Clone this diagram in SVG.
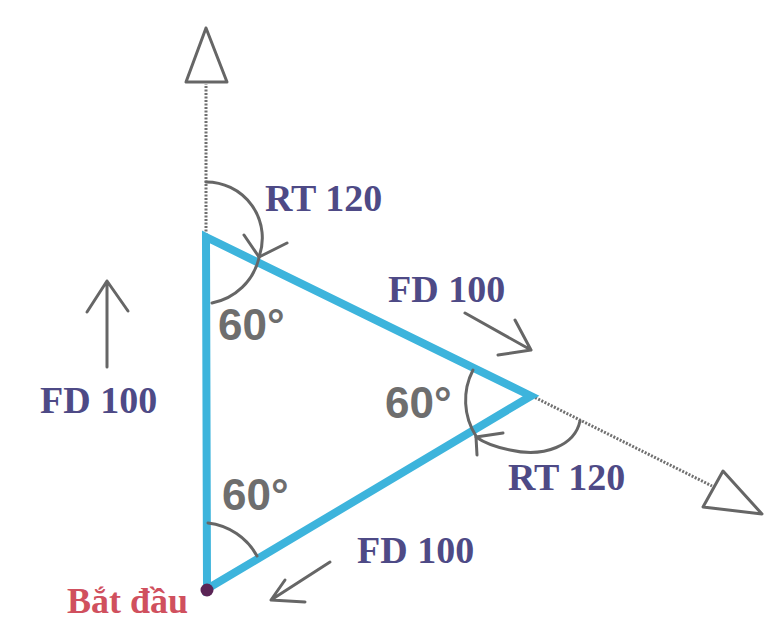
<svg xmlns="http://www.w3.org/2000/svg" width="775" height="634" viewBox="0 0 775 634">
<style>
.cmd{font-family:"Liberation Serif","Times New Roman",serif;font-weight:bold;font-size:38px;fill:#4e4a86}
.ang{font-family:"Liberation Sans",Arial,sans-serif;font-weight:bold;font-size:44px;fill:#6e6e6e}
.start{font-family:"Liberation Serif","Times New Roman",serif;font-weight:bold;font-size:36px;fill:#d0505e}
.arc{fill:none;stroke:#666;stroke-width:3;stroke-linecap:round;stroke-linejoin:round}
.dot{fill:none;stroke:#707070;stroke-width:3;stroke-dasharray:2 1.5}
.head{fill:#fff;stroke:#666;stroke-width:3;stroke-linejoin:round}
.side{stroke:#3db4dc;stroke-width:8;stroke-linecap:round;fill:none}
</style>
<rect width="775" height="634" fill="#ffffff"/>
<g id="connectors">
<line class="dot" x1="206" y1="235" x2="206" y2="84"/>
<polygon class="head" points="206,28 186,82 227,82"/>
<line class="dot" x1="532" y1="396" x2="712" y2="486"/>
<polygon class="head" points="762,514 703,507 723,471"/>
</g>
<g id="triangle">
<polygon class="side" points="206,237 531,396 207,589" stroke-linejoin="miter"/>
<circle cx="207" cy="590" r="6.5" fill="#5a2455"/>
</g>
<g id="arcs">
<path class="arc" d="M206,182 A56,56 0 0 1 259,257"/>
<path class="arc" d="M244,235 L259,257 L287,243"/>
<path class="arc" d="M259,258 A60,60 0 0 1 212,303"/>
<path class="arc" d="M473,370 A66,66 0 0 0 476,436"/>
<path class="arc" d="M580,421 C575,445 545,458 510,450 C495,447 483,442 476,437"/>
<path class="arc" d="M503,433 L476,437 L477,455"/>
<path class="arc" d="M208,523 A64,64 0 0 1 257,556"/>
</g>
<g id="motion-arrows">
<path class="arc" d="M107,367 L107,281 M87,312 L107,281 L128,311"/>
<path class="arc" d="M465,313 L531,350 M515,320 L531,350 L498,355"/>
<path class="arc" d="M330,562 L271,600 M285,580 L271,600 L305,602"/>
</g>
<g id="labels">
<text class="cmd" x="265" y="211">RT 120</text>
<text class="cmd" x="388" y="302">FD 100</text>
<text class="cmd" x="40" y="413">FD 100</text>
<text class="cmd" x="508" y="490">RT 120</text>
<text class="cmd" x="357" y="563">FD 100</text>
<text class="start" x="67" y="613">Bắt đầu</text>
<text class="ang" x="218" y="340">60°</text>
<text class="ang" x="385" y="418">60°</text>
<text class="ang" x="222" y="510">60°</text>
</g>
</svg>
